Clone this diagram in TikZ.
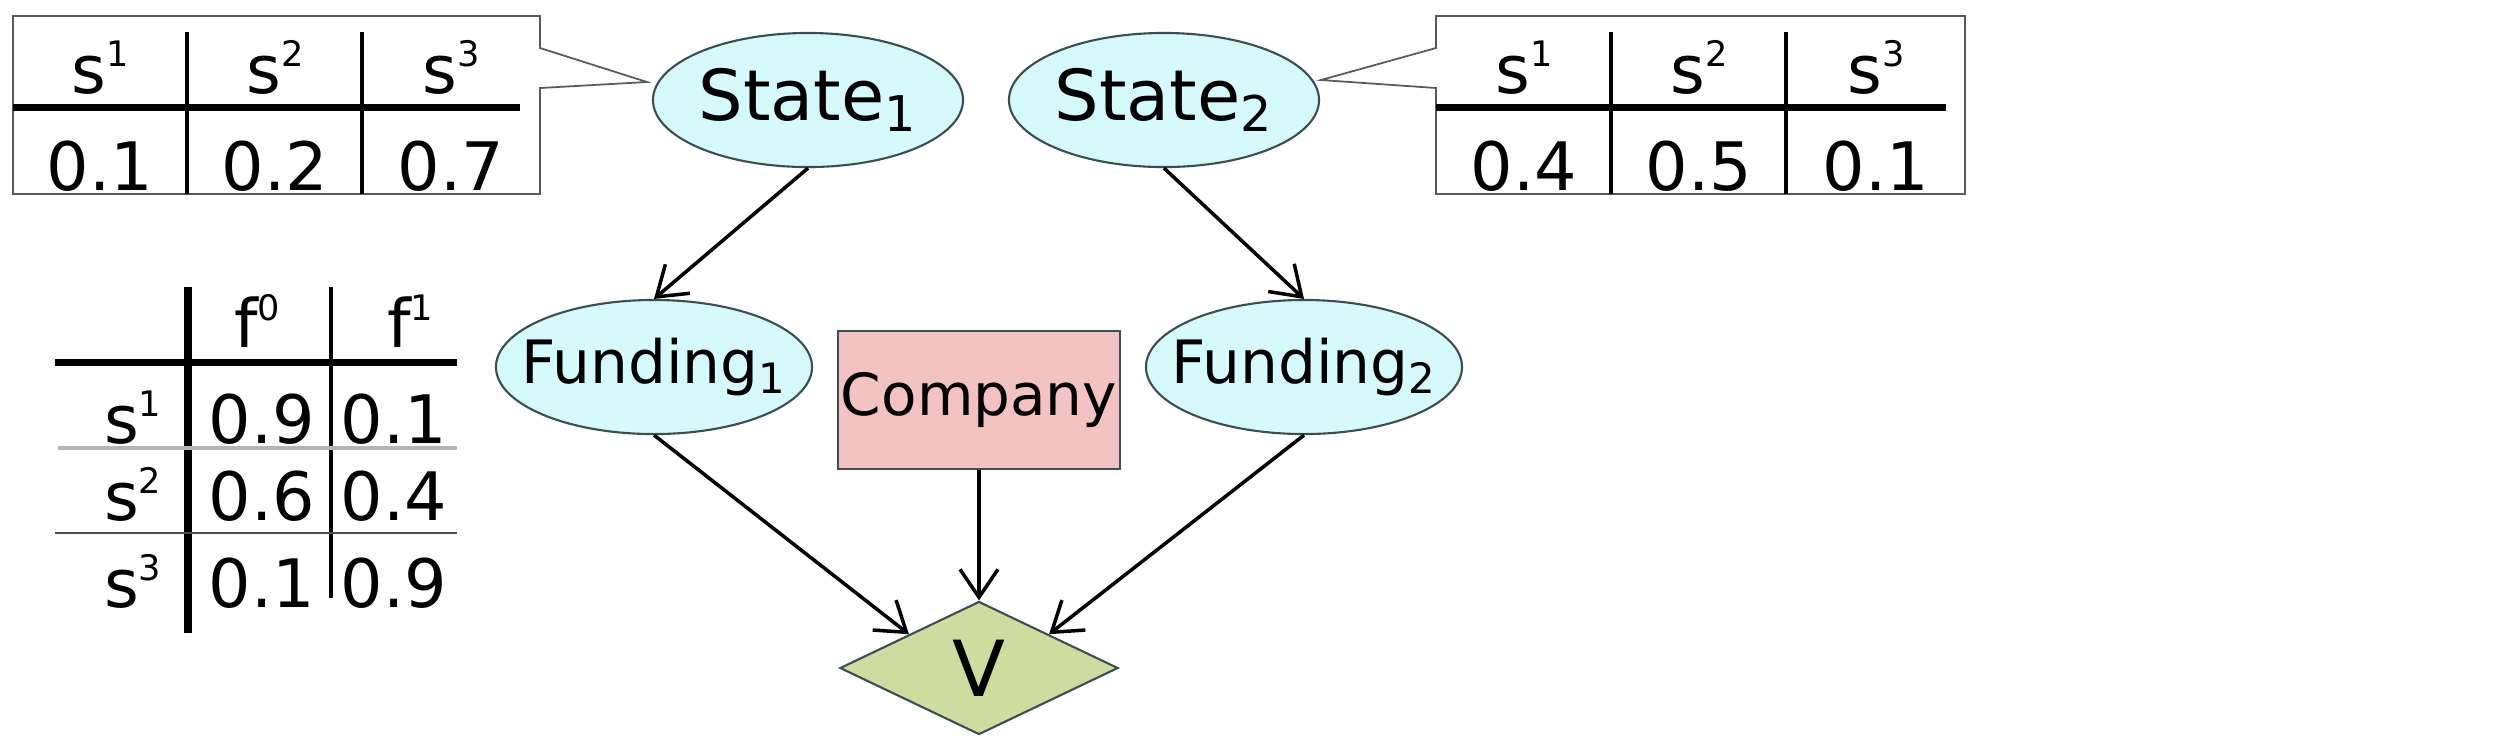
\documentclass[tikz,border=0pt]{standalone}
\usepackage{fontspec}
\setmainfont{DejaVu Sans}
\usetikzlibrary{arrows.meta,shapes.geometric}
\definecolor{StateCyan}{HTML}{D6FAFB}
\definecolor{NodeInk}{HTML}{3C4E52}
\definecolor{CompanyRose}{HTML}{F3C2C2}
\definecolor{UtilOlive}{HTML}{CFDCA0}
\definecolor{RuleGray}{HTML}{B4B4B4}
\newcommand{\upidx}[1]{\raisebox{7.5pt}{\fontsize{10}{12}\selectfont #1}}

\begin{document}
\begin{tikzpicture}[x=0.01cm,y=-0.01cm,
    chance/.style={ellipse,draw=NodeInk,fill=StateCyan,line width=0.6pt,inner sep=0pt,
                   minimum width=3.09cm,minimum height=1.34cm},
    arc/.style={-{Straight Barb[length=2.8mm,width=3.8mm]},line width=1pt},
    cell/.style={anchor=base,inner sep=0pt,font=\fontsize{19}{23}\selectfont},
    boxline/.style={draw=black!65,line width=0.5pt},
    heavyrule/.style={line width=2pt},
    colrule/.style={line width=0.9pt}]
  \useasboundingbox (0,0) rectangle (2493,747);

  % network
  \node[chance,font=\fontsize{20}{24}\selectfont] (state1) at (808,100) {State\textsubscript{1}};
  \node[chance,font=\fontsize{20}{24}\selectfont] (state2) at (1164,100) {State\textsubscript{2}};
  \node[chance,inner xsep=-6pt,font=\fontsize{17}{20}\selectfont] (fund1) at (654,367) {Funding\textsubscript{1}};
  \node[chance,inner xsep=-6pt,font=\fontsize{17}{20}\selectfont] (fund2) at (1304,367) {Funding\textsubscript{2}};
  \node[draw=NodeInk,fill=CompanyRose,line width=0.6pt,inner sep=0pt,
        minimum width=2.81cm,minimum height=1.38cm,font=\fontsize{16.5}{20}\selectfont] (company) at (979,400) {Company};
  \node[diamond,aspect=2.1,draw=NodeInk,fill=UtilOlive,line width=0.6pt,inner sep=0pt,
        minimum width=2.78cm,minimum height=1.33cm,font=\fontsize{22}{26}\selectfont] (value) at (979,668) {V};

  \draw[arc] (state1.south) -- (fund1.north);
  \draw[arc] (state2.south) -- (fund2.north);
  \draw[arc] (fund1.south) -- (value.north west);
  \draw[arc] (company.south) -- (value.north);
  \draw[arc] (fund2.south) -- (value.north east);

  % prior of State_1
  \draw[boxline] (13,16) -- (540,16) -- (540,48) -- (647,82) -- (540,88) -- (540,194) -- (13,194) -- cycle;
  \draw[heavyrule] (13,107) -- (520,107);
  \foreach \x in {187,362}
    \draw[colrule] (\x,32) -- (\x,194);
  \foreach \x/\s/\v in {100/1/0.1,275/2/0.2,451/3/0.7} {
    \node[cell] (pa\s) at (\x,93) {s\upidx{\s}};
    \node[cell] (pv\s) at (\x,190) {\v};
  }

  % prior of State_2
  \draw[boxline] (1965,16) -- (1436,16) -- (1436,48) -- (1321,80) -- (1436,88) -- (1436,194) -- (1965,194) -- cycle;
  \draw[heavyrule] (1436,107) -- (1946,107);
  \foreach \x in {1611,1786}
    \draw[colrule] (\x,32) -- (\x,194);
  \foreach \x/\s/\v in {1524/1/0.4,1699/2/0.5,1876/3/0.1} {
    \node[cell] (qa\s) at (\x,93) {s\upidx{\s}};
    \node[cell] (qv\s) at (\x,190) {\v};
  }

  % funding given state
  \draw[heavyrule] (188,287) -- (188,633);
  \draw[heavyrule] (55,362) -- (457,362);
  \draw[colrule] (331,287) -- (331,598);
  \draw[RuleGray,line width=1.2pt] (58,448) -- (457,448);
  \draw[black!70,line width=0.6pt] (55,533) -- (457,533);
  \node[cell] (f0) at (257,347) {f\upidx{0}};
  \node[cell] (f1) at (410,347) {f\upidx{1}};
  \foreach \s/\y/\a/\b in {1/443/0.9/0.1,2/520/0.6/0.4,3/607/0.1/0.9} {
    \node[cell,anchor=base east] (rs\s) at (162,\y) {s\upidx{\s}};
    \node[cell] (ra\s) at (262,\y) {\a};
    \node[cell] (rb\s) at (394,\y) {\b};
  }
\end{tikzpicture}
\end{document}
